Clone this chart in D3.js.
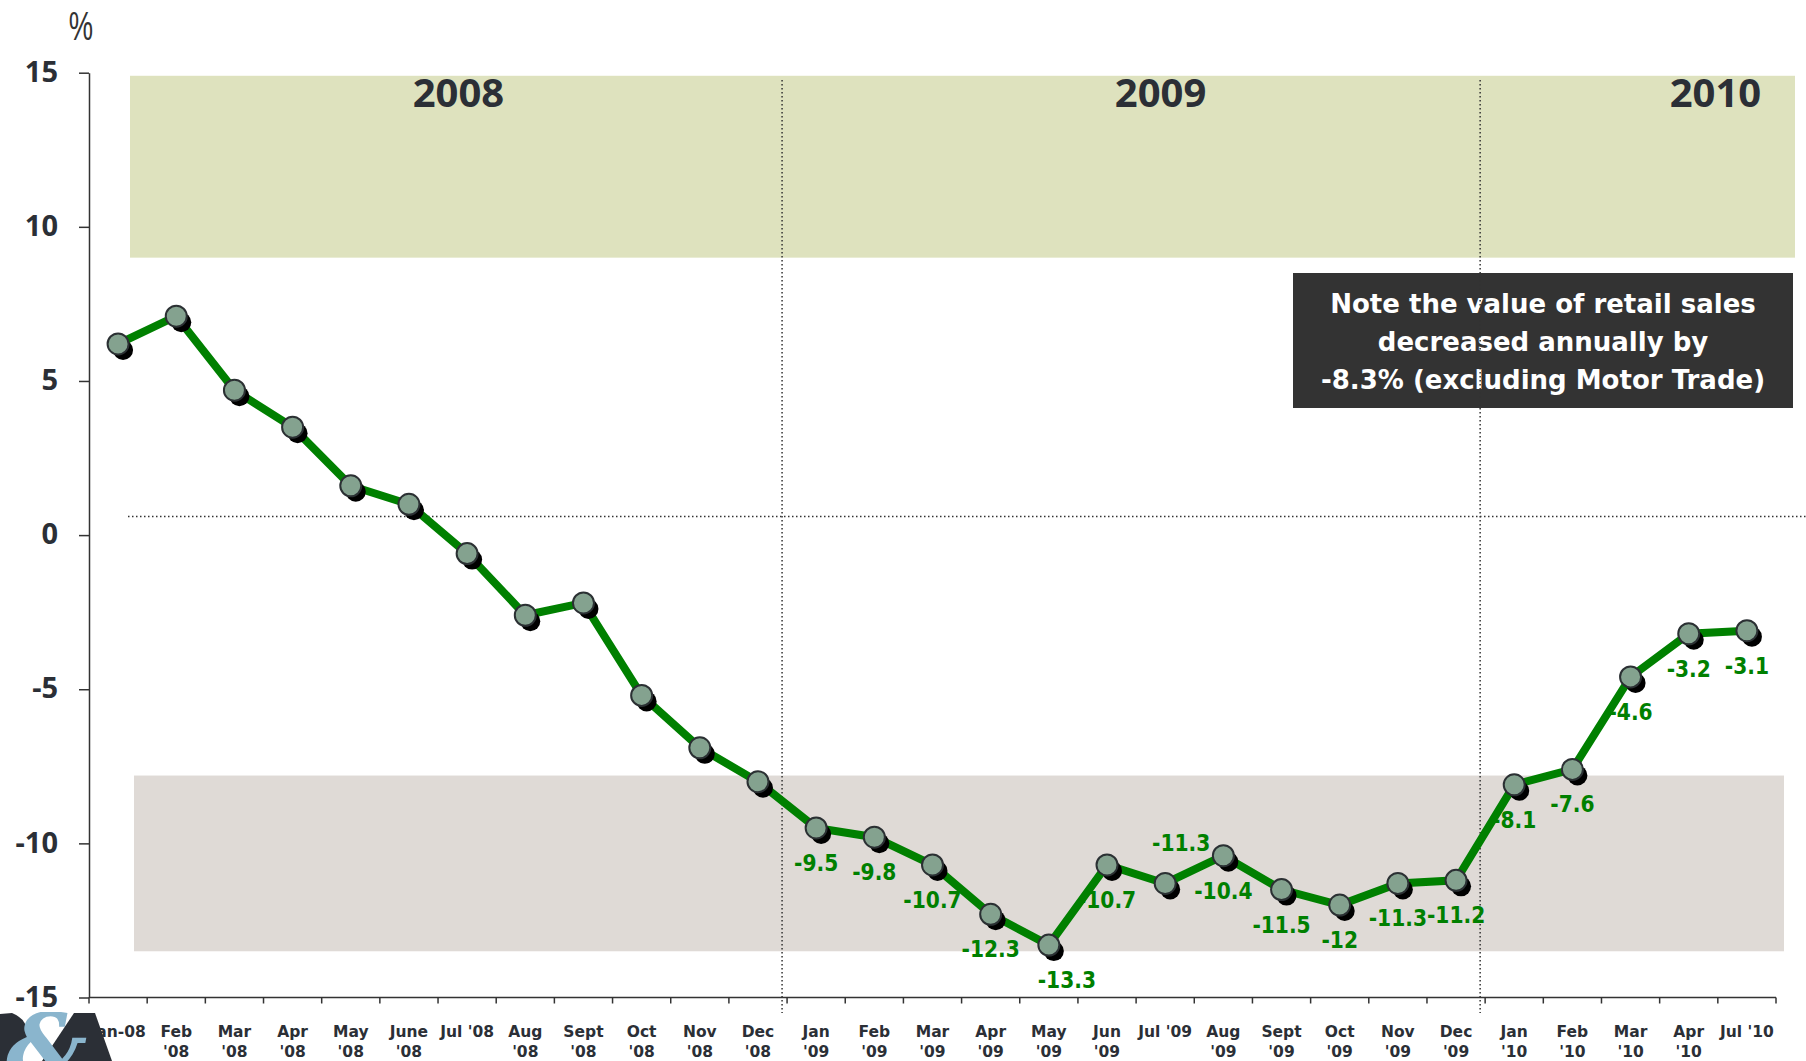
<!DOCTYPE html>
<html>
<head>
<meta charset="utf-8">
<script src="https://cdn.jsdelivr.net/npm/d3@7"></script>
<style>
body { margin: 0; background: #fff; }
svg text { font-family: "DejaVu Sans", sans-serif; }
</style>
</head>
<body>
<script>
// monthly % change, value of retail sales
var months = ["Jan-08", "Feb|'08", "Mar|'08", "Apr|'08", "May|'08", "June|'08", "Jul '08", "Aug|'08", "Sept|'08", "Oct|'08", "Nov|'08", "Dec|'08",
    "Jan|'09", "Feb|'09", "Mar|'09", "Apr|'09", "May|'09", "Jun|'09", "Jul '09", "Aug|'09", "Sept|'09", "Oct|'09", "Nov|'09", "Dec|'09",
    "Jan|'10", "Feb|'10", "Mar|'10", "Apr|'10", "Jul '10"];
var values = [6.2, 7.1, 4.7, 3.5, 1.6, 1.0, -0.6, -2.6, -2.2, -5.2, -6.9, -8.0,
    -9.5, -9.8, -10.7, -12.3, -13.3, -10.7, -11.3, -10.4, -11.5, -12, -11.3, -11.2,
    -8.1, -7.6, -4.6, -3.2, -3.1];
// where the value label goes (null = no label)
var labelSide = [null, null, null, null, null, null, null, null, null, null, null, null,
    "below", "below", "below", "below", "belowRight", "below", "above", "below", "below", "below", "below", "below",
    "below", "below", "below", "below", "below"];
var yTicks = [15, 10, 5, 0, -5, -10, -15];
var years = ["2008", "2009", "2010"];
var yearPos = [5.85, 17.92, 27.46]; // in months from Jan-08
var yearStarts = ["Jan|'09", "Jan|'10"]; // dotted year dividers
var noteLines = ["Note the value of retail sales", "decreased annually by", "-8.3% (excluding Motor Trade)"];

var width = 1806, height = 1061;

var svg = d3.select("body").append("svg")
    .attr("width", width)
    .attr("height", height);

var x = d3.scaleBand().domain(months).range([89, 1776]).padding(0);
var y = d3.scaleLinear().domain([-15, 15]).range([997.5, 72.7]);
var step = x.bandwidth();
var cx = function(d, i) { return x(months[i]) + step / 2; };
var cy = function(d) { return y(d); };
var monthIdx = d3.scaleLinear().domain([0, 1]).range([x(months[0]) + step / 2, x(months[0]) + step * 1.5]);

// shaded bands
svg.append("rect")
    .attr("x", 130).attr("y", y(14.9))
    .attr("width", 1795 - 130).attr("height", y(9) - y(14.9))
    .attr("fill", "#dee2be");
svg.append("rect")
    .attr("x", 134).attr("y", y(-7.8))
    .attr("width", 1784 - 134).attr("height", y(-13.5) - y(-7.8))
    .attr("fill", "#dfdad6");

// year titles
svg.selectAll(".year")
    .data(years)
    .enter()
    .append("text")
    .attr("class", "year")
    .attr("x", function(d, i) { return monthIdx(yearPos[i]); })
    .attr("y", 107)
    .attr("text-anchor", "middle")
    .style("font-family", "'Noto Sans', sans-serif")
    .style("font-weight", "bold")
    .style("font-size", "40px")
    .attr("fill", "#2b2f36")
    .text(function(d) { return d; });

// note box
var note = svg.append("g");
note.append("rect")
    .attr("x", 1293).attr("y", 273)
    .attr("width", 500).attr("height", 135)
    .attr("fill", "#333333");
note.selectAll("text")
    .data(noteLines)
    .enter()
    .append("text")
    .attr("x", 1543)
    .attr("y", function(d, i) { return 313 + i * 38; })
    .attr("text-anchor", "middle")
    .attr("fill", "#fff")
    .style("font-weight", "bold")
    .style("font-size", "26px")
    .text(function(d) { return d; });

// dotted guides
svg.append("line")
    .attr("x1", 128).attr("x2", width)
    .attr("y1", y(0.6)).attr("y2", y(0.6))
    .attr("stroke", "#333").attr("stroke-width", 1.5)
    .attr("stroke-dasharray", "1.5,2.5");
svg.selectAll(".ydiv")
    .data(yearStarts)
    .enter()
    .append("line")
    .attr("class", "ydiv")
    .attr("x1", function(d) { return x(d) - 5; })
    .attr("x2", function(d) { return x(d) - 5; })
    .attr("y1", 80).attr("y2", 1013)
    .attr("stroke", "#333").attr("stroke-width", 1.5)
    .attr("stroke-dasharray", "1.5,2.5");

// y axis
var yAxis = svg.append("g")
    .attr("transform", "translate(89,0)")
    .call(d3.axisLeft(y).tickValues(yTicks).tickSize(10).tickSizeOuter(0).tickPadding(21)
        .tickFormat(function(d) { return String(d); }));
yAxis.select(".domain").attr("stroke", "#333").attr("stroke-width", 1.5);
yAxis.selectAll(".tick line").attr("stroke", "#333").attr("stroke-width", 1.5);
yAxis.selectAll(".tick text")
    .attr("dy", "0.3em")
    .style("font-family", "'Noto Sans', sans-serif")
    .style("font-weight", "bold")
    .style("font-size", "29px")
    .attr("fill", "#2b2f36");

svg.append("text")
    .attr("transform", "translate(81,40) scale(0.72,1.05)")
    .attr("text-anchor", "middle")
    .style("font-family", "'Liberation Sans', sans-serif")
    .style("font-size", "38px")
    .attr("fill", "#333")
    .text("%");

// x axis
var xAxis = svg.append("g");
xAxis.append("line")
    .attr("x1", 89).attr("x2", 1776)
    .attr("y1", y(-15)).attr("y2", y(-15))
    .attr("stroke", "#333").attr("stroke-width", 1.5);
xAxis.selectAll(".xtick")
    .data(months.concat(["end"]))
    .enter()
    .append("line")
    .attr("class", "xtick")
    .attr("x1", function(d, i) { return i < months.length ? x(d) : x.range()[1]; })
    .attr("x2", function(d, i) { return i < months.length ? x(d) : x.range()[1]; })
    .attr("y1", y(-15)).attr("y2", y(-15) + 6)
    .attr("stroke", "#333").attr("stroke-width", 1.5);
var xLabels = xAxis.selectAll(".xlab")
    .data(months)
    .enter()
    .append("text")
    .attr("class", "xlab")
    .attr("text-anchor", "middle")
    .attr("fill", "#2b2f36")
    .style("font-weight", "bold")
    .style("font-size", "15.5px");
xLabels.selectAll("tspan")
    .data(function(d, i) {
        return d.split("|").map(function(t) { return {t: t, i: i}; });
    })
    .enter()
    .append("tspan")
    .attr("x", function(d) { return x(months[d.i]) + step / 2; })
    .attr("y", function(d, j) { return 1037 + j * 20; })
    .text(function(d) { return d.t; });

// value labels (they sit under the line)
var labelOffset = {
    below: [0, 43],
    belowRight: [18, 43],
    above: [16, -32]
};
values.forEach(function(v, i) {
    if (!labelSide[i]) return;
    var off = labelOffset[labelSide[i]];
    svg.append("text")
        .attr("class", "vlab")
        .attr("transform", "translate(" + (cx(v, i) + off[0]) + "," + (cy(v) + off[1]) + ") scale(0.88,1)")
        .attr("text-anchor", "middle")
        .attr("fill", "#008000")
        .style("font-weight", "bold")
        .style("font-size", "23px")
        .text(String(v));
});

// the series
var line = d3.line()
    .x(function(d, i) { return cx(d, i); })
    .y(function(d) { return cy(d); });
svg.append("path")
    .datum(values)
    .attr("d", line)
    .attr("fill", "none")
    .attr("stroke", "#008000")
    .attr("stroke-width", 8);

svg.selectAll(".shadow")
    .data(values)
    .enter()
    .append("circle")
    .attr("class", "shadow")
    .attr("cx", function(d, i) { return cx(d, i) + 5; })
    .attr("cy", function(d) { return cy(d) + 6; })
    .attr("r", 10)
    .attr("fill", "#000");
svg.selectAll(".dot")
    .data(values)
    .enter()
    .append("circle")
    .attr("class", "dot")
    .attr("cx", cx)
    .attr("cy", cy)
    .attr("r", 10.5)
    .attr("fill", "#84a28f")
    .attr("stroke", "#2b3033")
    .attr("stroke-width", 2);

// logo corner, cut by the page edge
svg.append("clipPath").attr("id", "logoClip")
    .append("rect").attr("x", 0).attr("y", 1012).attr("width", 120).attr("height", 49);
var logo = svg.append("g").attr("clip-path", "url(#logoClip)");
logo.append("path")
    .attr("d", "M0,1014 L12,1013 Q30,1020 27,1040 L20,1061 L0,1061 Z")
    .attr("fill", "#2b2f36");
logo.append("path")
    .attr("d", "M42,1061 L74,1013 L95,1013 L112,1061 Z")
    .attr("fill", "#2b2f36");
logo.append("text")
    .attr("x", 6).attr("y", 1078)
    .style("font-family", "'DejaVu Serif', serif")
    .style("font-weight", "bold")
    .style("font-style", "italic")
    .style("font-size", "90px")
    .attr("fill", "#8ab5cd")
    .text("&");
</script>
</body>
</html>
